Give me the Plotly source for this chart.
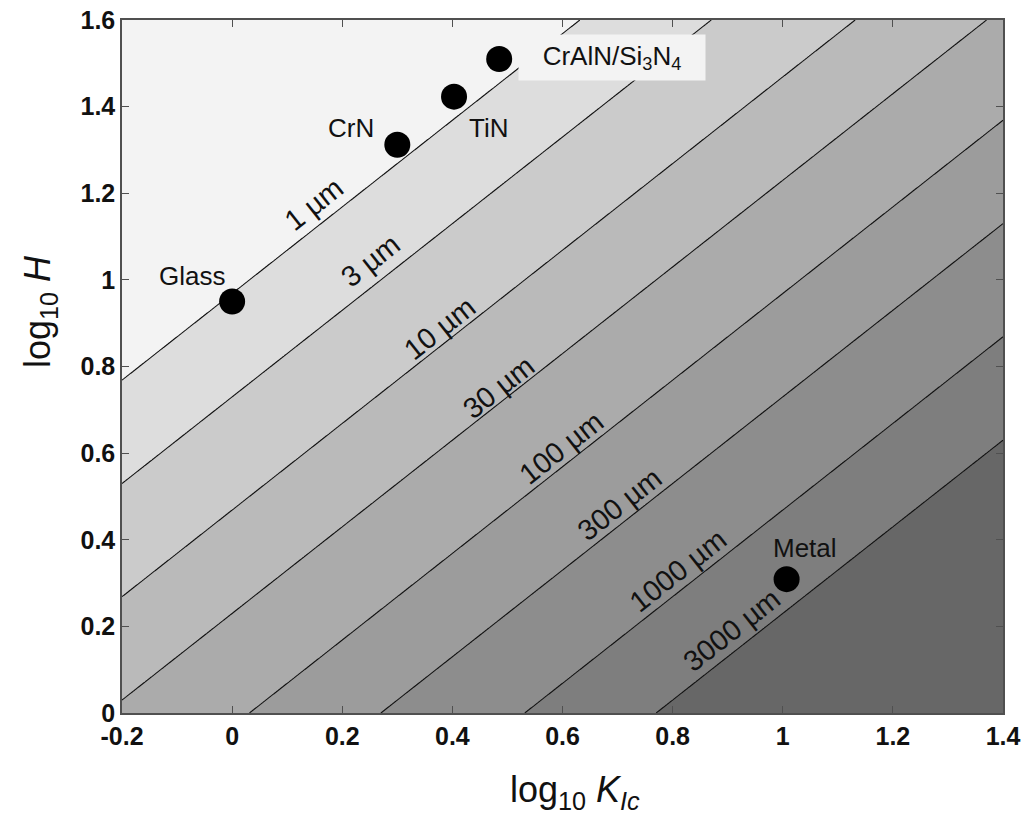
import math
import numpy as np
import plotly.graph_objects as go

# ---------------- data ----------------
thickness_levels_um = [1, 3, 10, 30, 100, 300, 1000, 3000]
thickness_labels = ["1 µm", "3 µm", "10 µm", "30 µm", "100 µm", "300 µm", "1000 µm", "3000 µm"]
# log10(thickness/µm) = 2*(log10 K - log10 H) + C  (C)
thickness_const_log = 1.937

material_names = ["Glass", "CrN", "TiN", "CrAlN/Si<sub>3</sub>N<sub>4</sub>", "Metal"]
material_logK = [0.0, 0.30, 0.403, 0.485, 1.007]
material_logH = [0.95, 1.312, 1.423, 1.51, 0.309]

x_tickvals = [-0.2, 0, 0.2, 0.4, 0.6, 0.8, 1.0, 1.2, 1.4]
x_ticktext = ["-0.2", "0", "0.2", "0.4", "0.6", "0.8", "1", "1.2", "1.4"]
y_tickvals = [0, 0.2, 0.4, 0.6, 0.8, 1.0, 1.2, 1.4, 1.6]
y_ticktext = ["0", "0.2", "0.4", "0.6", "0.8", "1", "1.2", "1.4", "1.6"]

# ---------------- styling / layout ----------------
band_greys = ["#f3f3f3", "#dddddd", "#cbcbcb", "#bababa", "#ababab",
              "#9c9c9c", "#8d8d8d", "#7e7e7e", "#676767"]
label_anchor_x = [0.163, 0.265, 0.392, 0.499, 0.612, 0.719, 0.823, 0.922]
label_extra_up = [9, 11, 2, 0, 3, 4, 6, 7]
name_shift = [(-40, 26), (-46, 17), (34, -31), (113, 1), (18, 31)]

W, H = 1027, 819
ML, MR, MT, MB = 122, 24, 20, 106
x_range = [-0.2, 1.4]
y_range = [0, 1.6]
pw, ph = W - ML - MR, H - MT - MB
angle = math.degrees(math.atan((ph / (y_range[1] - y_range[0])) / (pw / (x_range[1] - x_range[0]))))

FONT = "Liberation Sans, Arial, sans-serif"

# ---------------- contour field ----------------
xg = np.linspace(x_range[0], x_range[1], 401)
yg = np.linspace(y_range[0], y_range[1], 401)
X, Y = np.meshgrid(xg, yg)
log_t = 2.0 * (X - Y) + thickness_const_log
lev_log = list(np.log10(thickness_levels_um))
anchor_log = [-4.0] + lev_log + [6.0]
anchor_idx = [-8.0] + list(range(len(lev_log))) + [len(lev_log) - 1 + 5.0]
z_idx = np.interp(log_t, anchor_log, anchor_idx)

nb = len(band_greys)
colorscale = [[k / (nb - 1), band_greys[k]] for k in range(nb)]

fig = go.Figure()
fig.add_trace(go.Contour(
    x=xg, y=yg, z=z_idx,
    autocontour=False,
    contours=dict(start=0, end=len(lev_log) - 1, size=1, coloring="fill", showlines=True),
    line=dict(color="#111111", width=1.1, smoothing=0),
    colorscale=colorscale,
    showscale=False,
    hoverinfo="skip",
))

fig.add_trace(go.Scatter(
    x=material_logK, y=material_logH, mode="markers",
    marker=dict(size=26, color="black", line=dict(width=0)),
    hoverinfo="skip", showlegend=False,
))

annotations = []
# material labels
for i, name in enumerate(material_names):
    dx, dy = name_shift[i]
    a = dict(x=material_logK[i], y=material_logH[i], xref="x", yref="y",
             text=name, showarrow=False, xshift=dx, yshift=dy,
             font=dict(family=FONT, size=26, color="#111111"))
    if "Si" in name:
        a.update(bgcolor="#f3f3f3", width=184, height=43, borderpad=1, align="center")
    annotations.append(a)

# contour labels
off = 13.0
sx = -off * math.sin(math.radians(angle))
sy = off * math.cos(math.radians(angle))
for i, lab in enumerate(thickness_labels):
    xa = label_anchor_x[i]
    ya = xa - (lev_log[i] - thickness_const_log) / 2.0
    annotations.append(dict(x=xa, y=ya, xref="x", yref="y", text=lab, showarrow=False,
                            textangle=-angle, xshift=sx, yshift=sy + label_extra_up[i],
                            font=dict(family=FONT, size=29, color="#111111")))

# axis titles
annotations.append(dict(text="log<sub>10</sub> <i>K</i><sub><i>Ic</i></sub>",
                        xref="paper", yref="paper", xanchor="center", yanchor="middle",
                        x=(575 - ML) / pw, y=(H - MB - 792) / ph,
                        showarrow=False, font=dict(family=FONT, size=36, color="#111111")))
annotations.append(dict(text="log<sub>10</sub> <i>H</i>",
                        xref="paper", yref="paper", xanchor="center", yanchor="middle",
                        x=(40 - ML) / pw, y=(H - MB - 312) / ph, textangle=-90,
                        showarrow=False, font=dict(family=FONT, size=36, color="#111111")))

axis_common = dict(showgrid=False, zeroline=False, showline=True, linecolor="#505050",
                   linewidth=1.5, mirror="ticks", ticks="inside", ticklen=7,
                   tickcolor="#505050", tickwidth=1.2, automargin=False,
                   tickfont=dict(family=FONT, size=25, color="#111111", weight="bold"))

fig.update_layout(
    width=W, height=H,
    margin=dict(l=ML, r=MR, t=MT, b=MB, autoexpand=False),
    paper_bgcolor="white", plot_bgcolor="white",
    xaxis=dict(range=x_range, tickvals=x_tickvals, ticktext=x_ticktext, **axis_common),
    yaxis=dict(range=y_range, tickvals=y_tickvals, ticktext=y_ticktext, **axis_common),
    annotations=annotations,
    showlegend=False,
)

fig.write_html("out.html", config={"displayModeBar": False},
               post_script="document.body.style.margin='0';")
